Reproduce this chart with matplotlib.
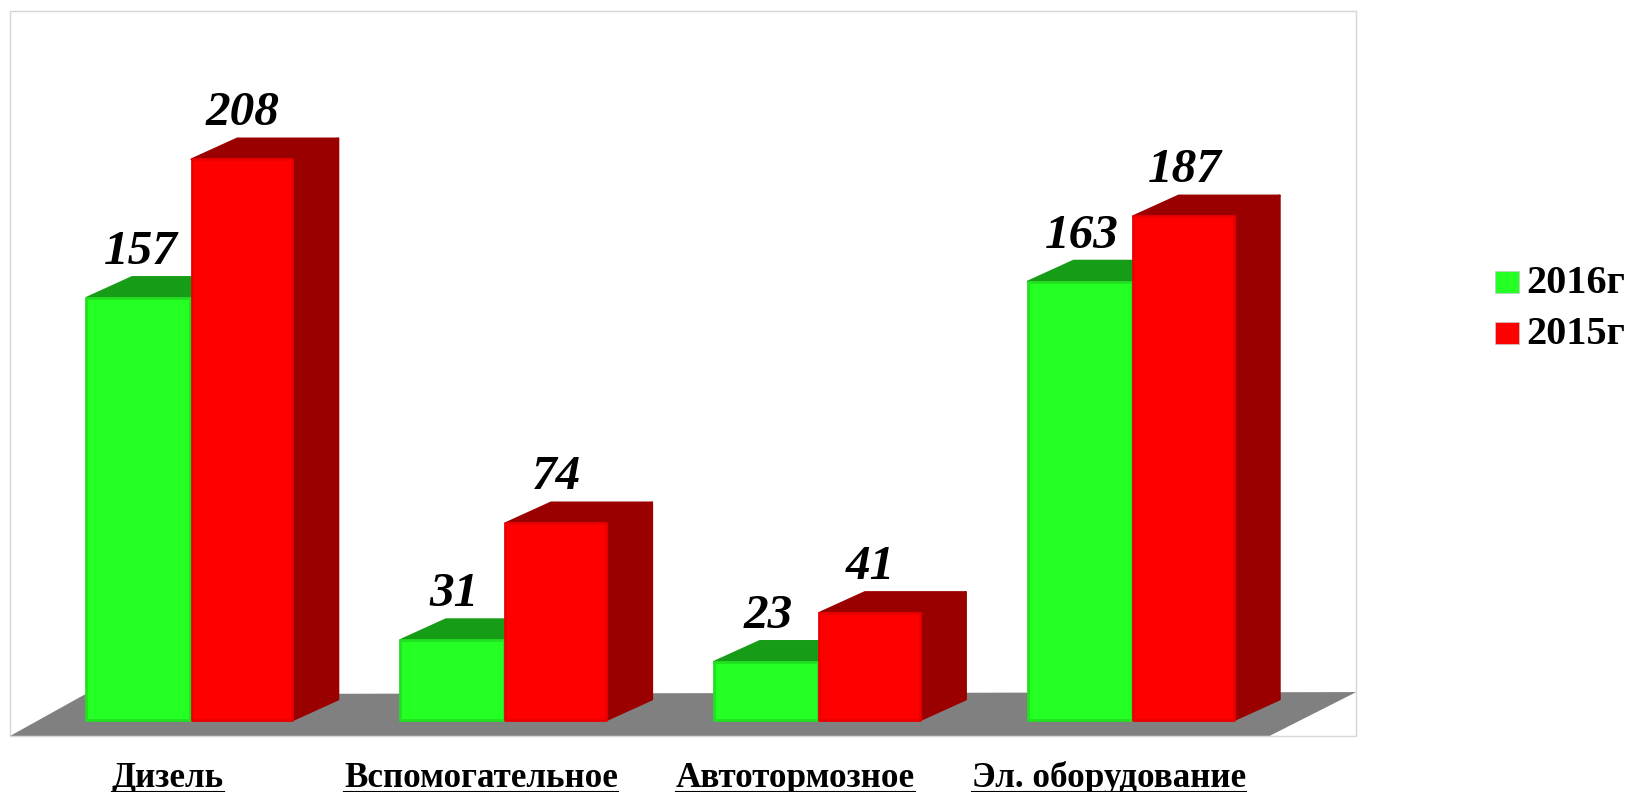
import numpy as np
import matplotlib
matplotlib.use('Agg')
import matplotlib.pyplot as plt
from matplotlib.patches import Polygon, Rectangle

plt.rcParams['font.family'] = ['Liberation Serif', 'DejaVu Serif']

categories = ['Дизель', 'Вспомогательное', 'Автотормозное', 'Эл. оборудование']
values_2016 = [157, 31, 23, 163]
values_2015 = [208, 74, 41, 187]
series_names = ['2016г', '2015г']

# layout numbers below are in these units, the file itself is 1632x792
W, H = 1568, 761
GREEN, GREEN_DARK, GREEN_EDGE = '#24ff24', '#169c16', '#22e022'
RED, RED_DARK, RED_EDGE = '#ff0000', '#9b0000', '#ea0000'

zero_y = 696
px_per_unit = 2.61
bar_floor = 4 / px_per_unit  # bars stand a little above value 0
group_px = 301.5
first_center = 183
green_w = 100 / group_px
red_w = 97 / group_px
depth_x = 44 / group_px
depth_y = 20 / px_per_unit


def fx(x):
    return x / W


def fy(y):
    return 1 - y / H


fig = plt.figure(figsize=(16.32, 7.92), dpi=100, facecolor='white')
ax = fig.add_axes([0, 0, 1, 1])
ax.set_xlim(-first_center / group_px, (W - first_center) / group_px)
ax.set_ylim((zero_y - H) / px_per_unit, zero_y / px_per_unit)
ax.axis('off')

# plot frame and floor
fig.add_artist(Rectangle((fx(10), fy(707)), fx(1293), 696 / H, transform=fig.transFigure,
                         facecolor='white', edgecolor='#d6d6d6', lw=1, zorder=-2))
fig.add_artist(Polygon([(fx(10), fy(707)), (fx(82), fy(667)), (fx(1303), fy(665)), (fx(1220), fy(707))],
                       transform=fig.transFigure, facecolor='#808080', edgecolor='none', zorder=-1))


def draw_bar(x, w, value, front, top, edge, z):
    ax.add_patch(Polygon([(x, value), (x + depth_x, value + depth_y), (x + w + depth_x, value + depth_y),
                          (x + w, value)], facecolor=top, edgecolor=top, lw=1.5, joinstyle='round', zorder=z))
    ax.add_patch(Polygon([(x + w, bar_floor), (x + w + depth_x, bar_floor + depth_y),
                          (x + w + depth_x, value + depth_y), (x + w, value)],
                         facecolor=top, edgecolor=top, lw=1.5, joinstyle='round', zorder=z))
    ax.bar(x, value - bar_floor, width=w, bottom=bar_floor, align='edge', color=front, edgecolor=edge, lw=2,
           joinstyle='round', zorder=z + 0.5)


pos = np.arange(len(categories))
for i in pos:
    draw_bar(i - green_w, green_w, values_2016[i], GREEN, GREEN_DARK, GREEN_EDGE, 2 + i)
    draw_bar(i + 1 / group_px, red_w, values_2015[i], RED, RED_DARK, RED_EDGE, 2.7 + i)
    ax.text(i - green_w / 2 + 2 / group_px, values_2016[i] + 12.5, str(values_2016[i]), ha='center', va='baseline',
            fontsize=35.5, fontweight='bold', fontstyle='italic', zorder=10)
    ax.text(i + red_w / 2 + 2 / group_px, values_2015[i] + 12.5, str(values_2015[i]), ha='center', va='baseline',
            fontsize=35.5, fontweight='bold', fontstyle='italic', zorder=10)

# category labels with underline
renderer = fig.canvas.get_renderer()
for i, name in enumerate(categories):
    t = ax.text(i - 22 / group_px, (zero_y - 756) / px_per_unit, name, ha='center', va='baseline',
                fontsize=25.3, fontweight='bold', color='black')
    box = t.get_window_extent(renderer)
    fig.add_artist(plt.Line2D([box.x0 / fig.bbox.width, box.x1 / fig.bbox.width], [fy(761), fy(761)],
                              color='black', lw=1.5, transform=fig.transFigure))

# legend
for name, color, y in zip(series_names, [GREEN, RED], [271, 320]):
    fig.add_artist(Rectangle((fx(1436), fy(y + 11)), 23 / W, 22 / H, transform=fig.transFigure,
                             facecolor=color, edgecolor='#c8c8c8', lw=0.5))
    fig.text(fx(1466), fy(y + 11), name, ha='left', va='baseline', fontsize=29, fontweight='bold')

fig.savefig('out.png', dpi=100)
